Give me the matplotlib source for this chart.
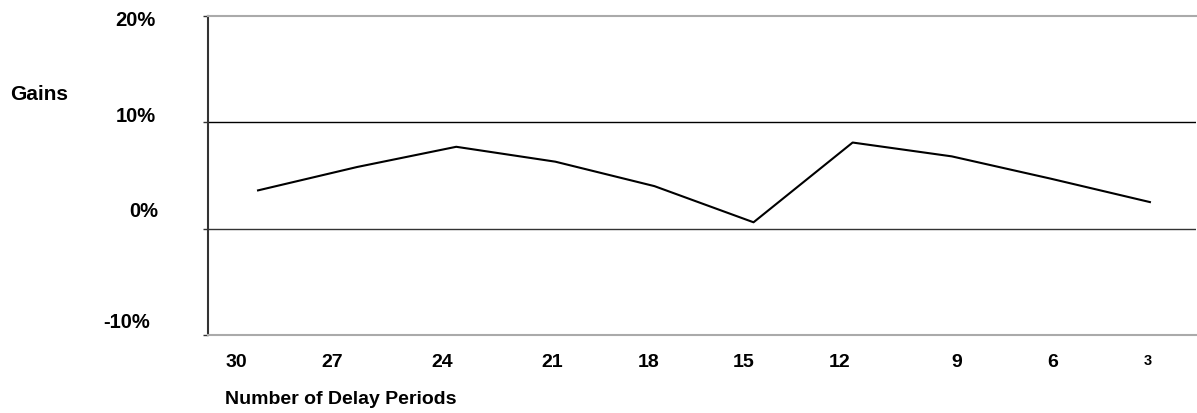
import matplotlib
matplotlib.use("Agg")
import matplotlib.pyplot as plt
import matplotlib.transforms as mtransforms

# Data
delay_periods = ["30", "27", "24", "21", "18", "15", "12", "9", "6", "3"]
gains = [3.6, 5.8, 7.7, 6.3, 4.0, 0.6, 8.1, 6.8, 4.7, 2.5]
y_ticks = [-10, 0, 10, 20]
y_tick_labels = ["-10%", "0%", "10%", "20%"]

FONT = "Liberation Sans"

fig = plt.figure(figsize=(11.97, 4.13), dpi=100)
ax = fig.add_axes([208 / 1197, (413 - 335) / 413, (1196 - 208) / 1197, (335 - 16) / 413])

x = list(range(len(gains)))
ax.plot(x, gains, color="black", linewidth=1.5, solid_joinstyle="round")

ax.set_xlim(-0.505, 9.465)
ax.set_ylim(-10, 20)

# horizontal reference lines
ax.axhline(10, color="black", linewidth=1.0, zorder=0)
ax.axhline(0, color="#333333", linewidth=1.0, zorder=0)

for s in ["top", "bottom"]:
    ax.spines[s].set_color("#aaaaaa")
    ax.spines[s].set_linewidth(1.5)
ax.spines["right"].set_visible(False)
ax.spines["left"].set_color("#333333")
ax.spines["left"].set_linewidth(1.5)

ax.set_yticks(y_ticks)
ax.set_yticklabels(y_tick_labels, fontfamily=FONT, fontweight="bold", fontsize=14.5)
ax.tick_params(axis="y", direction="out", length=3.6, width=1, color="#333333", pad=34)

ax.set_xticks(x)
ax.set_xticklabels(delay_periods, fontfamily=FONT, fontweight="bold", fontsize=14)
ax.tick_params(axis="x", length=0, pad=14)

# per-label nudges (pixels) to match the reference layout
ydx = {"-10%": -6, "0%": 2, "10%": 0, "20%": 0}
ydy = {"-10%": 15, "0%": 19, "10%": 8, "20%": -2}
for lab in ax.get_yticklabels():
    t = lab.get_text()
    off = mtransforms.ScaledTranslation(ydx[t] / 100, ydy[t] / 100, fig.dpi_scale_trans)
    lab.set_transform(lab.get_transform() + off)

xdx = [-22, -25, -14, -3, -6, -10, -13, 5, 2, -2]
for lab, dx in zip(ax.get_xticklabels(), xdx):
    off = mtransforms.ScaledTranslation(dx / 100, 0, fig.dpi_scale_trans)
    lab.set_transform(lab.get_transform() + off)
    if lab.get_text() == "3":
        lab.set_fontsize(10.5)

fig.text(10 / 1197, 1 - 94 / 413, "Gains", fontfamily=FONT, fontweight="bold",
         fontsize=15, ha="left", va="center")
fig.text(225 / 1197, 1 - 400 / 413, "Number of Delay Periods", fontfamily=FONT,
         fontweight="bold", fontsize=14, ha="left", va="center")

fig.savefig("out.png", dpi=100)
